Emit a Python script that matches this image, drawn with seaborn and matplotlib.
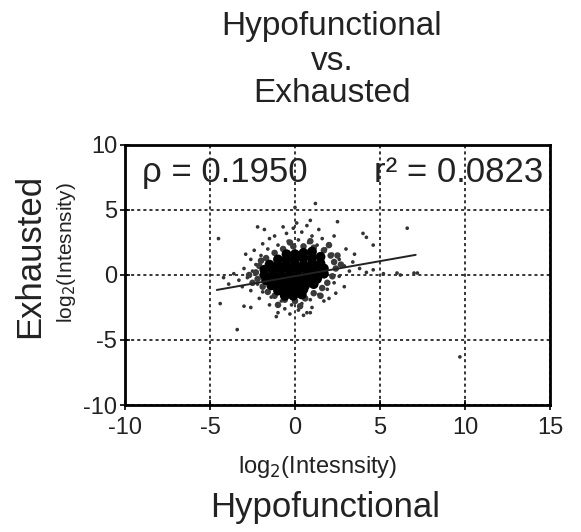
import matplotlib
matplotlib.use("Agg")
import matplotlib.pyplot as plt
import seaborn as sns
import pandas as pd

# --- data ---
# dense core of the cloud (drawn with big markers)
core_x = [-0.5, 0.0, 0.5, 1.0,
          -1.0, -0.5, 0.0, 0.5, 1.0, 1.5,
          -1.5, -1.0, -0.5, 0.0, 0.5, 1.0, 1.5,
          -1.8, -1.3, -0.8, -0.3, 0.2, 0.7, 1.2, 1.7,
          -1.8, -1.3, -0.8, -0.3, 0.2, 0.7, 1.2, 1.7,
          -1.7, -1.2, -0.7, -0.2, 0.3, 0.8, 1.3,
          -1.4, -0.9, -0.4, 0.1, 0.6, 1.1,
          -1.0, -0.5, 0.0, 0.5,
          -0.6, -0.1, 0.4]
core_y = [1.6, 1.6, 1.7, 1.8,
          1.2, 1.2, 1.2, 1.3, 1.3, 1.4,
          0.8, 0.8, 0.8, 0.8, 0.8, 0.9, 0.9,
          0.4, 0.4, 0.4, 0.4, 0.4, 0.4, 0.4, 0.5,
          0.0, 0.0, 0.0, 0.0, 0.0, 0.0, 0.0, 0.1,
          -0.4, -0.4, -0.4, -0.4, -0.4, -0.4, -0.3,
          -0.8, -0.8, -0.8, -0.8, -0.8, -0.7,
          -1.2, -1.2, -1.2, -1.1,
          -1.6, -1.6, -1.5]

# fuzzy ring round the core
mid_x = [-2.3, -2.2, -2.1, -1.9, -1.7, -1.2, -0.7, -0.1, 0.5, 1.1, 1.7, 2.1,
         2.3, 2.4, 2.2, 1.9, 1.6, 1.1, 0.6, 0.0, -0.6, -1.2, -1.6, -2.5, -2.7,
         -2.0, 2.7, 2.5, 2.0, -0.3, 0.9, -1.0, 0.3, 1.5]
mid_y = [0.2, -0.3, 0.7, -0.9, 1.3, 1.7, 2.0, 2.2, 2.2, 2.1, 1.9, 1.5,
         1.0, 0.5, -0.1, -0.6, -1.0, -1.4, -1.8, -2.0, -1.9, -1.6, -1.3, -0.6, 0.0,
         1.1, 0.8, 1.5, 2.3, 2.5, 2.6, -2.3, -2.4, -1.6]

# halo and outliers (small markers)
pts_x = [-2.5, -2.8, -2.3, -2.2, -3.0, -2.6, -2.0, -1.6, -1.0, -0.4, 0.2, 0.8,
         1.3, 1.8, 2.2, 2.6, 2.9, 3.2, 2.6, 2.3, 1.9, 1.4, 0.9, 0.4, -0.2, -0.8,
         -1.4, -1.9, -3.3, -3.6, -1.2, -0.5, 0.4, 1.0, 1.6, 2.0, 3.4, 3.8, 4.2,
         2.9, 2.4, 1.7, 1.0, 0.2, -0.6, -1.5, -2.1, -2.6, -3.1, -1.9, -2.4, -0.1,
         0.7, 1.4, 2.3, -1.5, 3.0, 3.5, 4.6, 5.2, 2.0, -0.3, 0.5, -1.0, -3.9,
         -4.2, -2.9,
         -2.2, -1.8, -0.7, 0.1, 0.9, 0.0, 1.2, 2.5, 4.0, 4.2, 4.6, 6.6, -4.5,
         -4.4, -3.4, -3.0, -2.6, 0.7, 0.9, -1.1, 6.0, 6.2, 7.0, 7.2, 9.7]
pts_y = [0.3, -0.2, 0.8, -0.7, 0.5, 1.2, 1.5, 2.0, 2.3, 2.6, 2.7, 2.5,
         2.3, 2.0, 1.6, 1.2, 0.7, 0.3, -0.1, -0.6, -1.1, -1.5, -1.9, -2.2, -2.3, -2.0,
         -1.7, -1.3, -0.4, 0.1, 3.0, 3.2, 3.3, 3.0, 2.8, 2.4, 1.0, 0.5, 0.2,
         -0.9, -1.4, -2.0, -2.5, -2.7, -2.6, -2.3, -1.8, -1.2, -0.9, 2.4, 1.9, 3.6,
         3.8, 3.5, 3.0, 2.8, 2.0, 1.6, 0.4, 0.1, -1.8, -3.0, -3.1, -2.9, -0.7,
         -0.2, 1.6,
         3.7, 3.5, 3.7, 4.0, 4.2, 5.2, 5.5, 4.1, 3.2, 2.9, 2.3, 3.6, 2.8,
         -2.2, -4.2, -2.4, -2.5, -2.9, -2.9, -3.2, 0.15, 0.0, 0.15, 0.15, -6.3]

# fitted line end points
fit_x = [-4.6, 7.1]
fit_y = [-1.15, 1.55]

x_ticks = [-10, -5, 0, 5, 10, 15]
y_ticks = [-10, -5, 0, 5, 10]

core = pd.DataFrame({"x": core_x, "y": core_y})
mid = pd.DataFrame({"x": mid_x, "y": mid_y})
pts = pd.DataFrame({"x": pts_x, "y": pts_y})
fit = pd.DataFrame({"x": fit_x, "y": fit_y})

sns.set_theme(style="white")
plt.rcParams["font.family"] = ["Liberation Sans", "DejaVu Sans"]
plt.rcParams["axes.unicode_minus"] = False

fig = plt.figure(figsize=(5.81, 5.32), dpi=100)
ax = fig.add_axes([125 / 581, 1 - 405 / 532, 425 / 581, 260 / 532])

sns.scatterplot(data=pts, x="x", y="y", ax=ax, s=7, color="#333333",
                edgecolor="none", linewidth=0)
sns.scatterplot(data=mid, x="x", y="y", ax=ax, s=22, color="#3a3a3a",
                edgecolor="none", linewidth=0)
sns.scatterplot(data=core, x="x", y="y", ax=ax, s=50, color="black",
                edgecolor="none", linewidth=0)
sns.lineplot(data=fit, x="x", y="y", ax=ax, color="#222222", lw=1.4)

ax.set_xlim(-10, 15)
ax.set_ylim(-10, 10)
ax.set_xticks(x_ticks)
ax.set_yticks(y_ticks)
ax.set_xlabel("")
ax.set_ylabel("")
ax.grid(True, color="black", linestyle=(0, (2, 2)), linewidth=1.1)
ax.set_axisbelow(True)
for sp in ax.spines.values():
    sp.set_color("black")
    sp.set_linewidth(2)
ax.tick_params(axis="both", direction="inout", length=7, width=1.2,
               labelsize=17, labelcolor="#222222", color="black",
               bottom=True, left=True)
ax.tick_params(axis="x", pad=5)
ax.tick_params(axis="y", pad=2)

ax.text(-9.0, 7.9, "ρ = 0.1950", fontsize=25, va="center", ha="left",
        color="#222222")
ax.text(14.6, 7.9, "r² = 0.0823", fontsize=25, va="center", ha="right",
        color="#222222")

# titles and axis labels
fig.text(332 / 581, 1 - 26 / 532, "Hypofunctional", fontsize=24, ha="center",
         va="center", color="#222222")
fig.text(332 / 581, 1 - 62 / 532, "vs.", fontsize=24, ha="center",
         va="center", color="#222222")
fig.text(332 / 581, 1 - 94 / 532, "Exhausted", fontsize=24, ha="center",
         va="center", color="#222222")

fig.text(318 / 581, 1 - 467 / 532, "log$_2$(Intesnsity)", fontsize=17,
         ha="center", va="center", color="#222222")
fig.text(325 / 581, 1 - 508 / 532, "Hypofunctional", fontsize=25,
         ha="center", va="center", color="#222222")
fig.text(30 / 581, 1 - 256 / 532, "Exhausted", fontsize=25, rotation=90,
         ha="center", va="center", color="#222222")
fig.text(66 / 581, 1 - 253 / 532, "log$_2$(Intesnsity)", fontsize=15,
         rotation=90, ha="center", va="center", color="#222222")

fig.savefig("out.png", dpi=100)
